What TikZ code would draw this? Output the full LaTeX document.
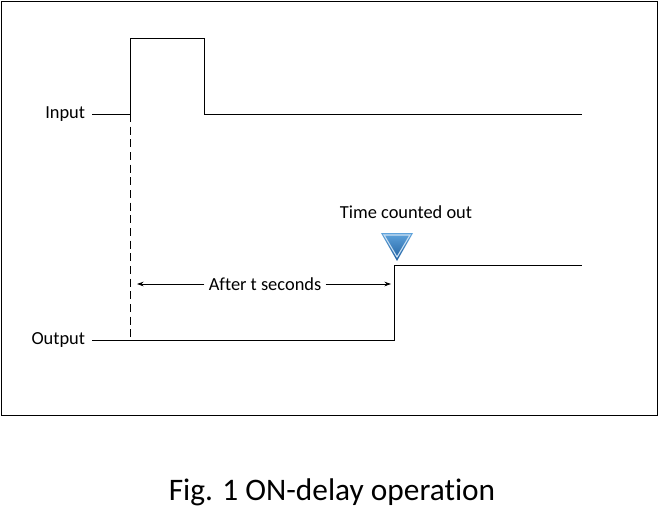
\documentclass[tikz,border=0pt]{standalone}
\usepackage{fontspec}
\setmainfont{Carlito}[Ligatures=NoCommon]
\usetikzlibrary{positioning,calc,arrows.meta}
\definecolor{markerTop}{HTML}{5FA3DC}
\definecolor{markerBottom}{HTML}{1E5E9E}
\definecolor{markerEdge}{HTML}{C9DFF2}
\tikzset{
  sig label/.style={font=\fontsize{13.8}{16}\selectfont, inner sep=5pt, anchor=east},
  sig line/.style={line width=0.65pt, line join=miter},
  delay arrow/.style={line width=0.6pt, -{Stealth[length=5pt, width=3.5pt]}},
  caption text/.style={font=\fontsize{23.5}{28}\selectfont, inner sep=0pt}
}

\begin{document}
\begin{tikzpicture}[x=0.75pt, y=-0.75pt]
    \useasboundingbox (0,0) rectangle (659,512);
    % Frame
    \draw [line width=0.75pt] (1,1) rectangle (657,415);

    % Labels
    \node [sig label] (Input) at (92,114) {Input};
    \node [sig label] (Output) at (92,340) {Output};

    % Input signal
    \coordinate (InRise) at (130,114);
    \coordinate (InFall) at (204,114);
    \coordinate (InEnd) at (582,114);
    \draw [sig line] (Input.east) -- (InRise) |- (204,38) -- (InFall) -- (InEnd);

    % Output signal
    \coordinate (OutRise) at (394,340);
    \coordinate (OutEnd) at (582,265);
    \draw [sig line] (Output.east) -- (OutRise) |- (OutEnd);

    % Reference line
    \draw [line width=0.6pt, dash pattern=on 6pt off 3.5pt] (InRise) -- (130,340);

    % Delay
    \node [font=\fontsize{13.8}{16}\selectfont, inner sep=3pt] (Delay) at (265,284) {After t seconds};
    \coordinate (DelayL) at (137,284);
    \coordinate (DelayR) at (391,284);
    \draw [delay arrow] (Delay.west) -- (DelayL);
    \draw [delay arrow] (Delay.east) -- (DelayR);

    % Marker
    \node [font=\fontsize{13.8}{16}\selectfont, inner sep=0pt] (Counted) at (406,212) {Time counted out};
    \coordinate (MarkL) at (381,233);
    \coordinate (MarkR) at (413,233);
    \coordinate (MarkTip) at (397,261);
    \shade [top color=markerTop, bottom color=markerBottom] (MarkL) -- (MarkR) -- (MarkTip) -- cycle;
    \draw [markerEdge, line width=0.8pt] ($(MarkL)+(3,2)$) -- ($(MarkR)+(-3,2)$) -- ($(MarkTip)+(0,-4)$) -- cycle;

    % Caption
    \node [caption text] (Caption) at (332,492) {Fig. 1 ON-delay operation};
\end{tikzpicture}
\end{document}
